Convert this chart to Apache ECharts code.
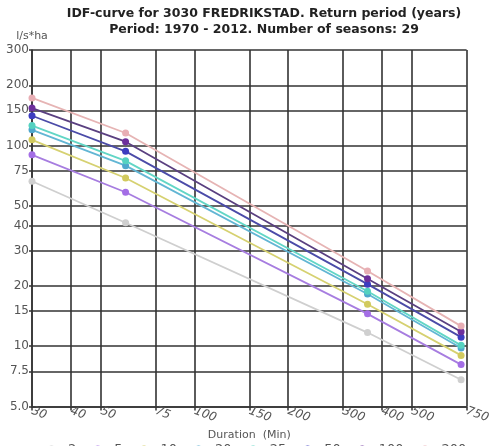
<!DOCTYPE html>
<html>
<head>
<meta charset="utf-8">
<title>IDF-curve 3030 FREDRIKSTAD</title>
<script src="https://cdn.jsdelivr.net/npm/echarts@6/dist/echarts.min.js"></script>
<style>
  html, body { margin: 0; padding: 0; background: #fff; }
  #chart { width: 493px; height: 446px; }
</style>
</head>
<body>
<div id="chart"></div>
<script>
// Durations (minutes) at which intensities are given
const durations = [30, 60, 360, 720];

// Return periods (years) and intensities (l/s*ha) per duration
const returnPeriods = ['2', '5', '10', '20', '25', '50', '100', '200'];
const rp2   = [66.5, 41.3, 11.7, 6.8];
const rp5   = [90, 58.6, 14.5, 8.1];
const rp10  = [107, 69, 16.2, 9.0];
const rp20  = [120, 79.5, 18.2, 9.8];
const rp25  = [126, 84, 18.8, 10.1];
const rp50  = [141, 93.7, 20.4, 11.1];
const rp100 = [154, 104.7, 21.7, 11.8];
const rp200 = [173, 115.7, 23.7, 12.6];

// Tick values for both log axes
const xTicks = [30, 40, 50, 75, 100, 150, 200, 300, 400, 500, 750];
const yTicks = [5, 7.5, 10, 15, 20, 30, 40, 50, 75, 100, 150, 200, 300];

const seriesValues = [rp2, rp5, rp10, rp20, rp25, rp50, rp100, rp200];
const lineColors = ['#cfcfcf', '#a77de0', '#d6d171', '#62b6d4', '#62d6c6', '#4b4ba8', '#5a4080', '#e6b4b4'];
const markColors = ['#cfcfcf', '#a46ee6', '#d2ca5e', '#4fa7cc', '#55d2c0', '#3d3dc0', '#6d2f9c', '#e8aeb4'];

const chart = echarts.init(document.getElementById('chart'), null, { renderer: 'canvas' });

const series = returnPeriods.map((name, i) => ({
  name: name,
  type: 'line',
  data: durations.map((d, j) => [d, seriesValues[i][j]]),
  symbol: 'circle',
  symbolSize: 7,
  showSymbol: true,
  lineStyle: { color: lineColors[i], width: 1.8 },
  itemStyle: { color: markColors[i] },
  z: 3 + i,
  animation: false
}));

const axisText = { color: '#555', fontFamily: 'DejaVu Sans', fontSize: 12 };

chart.setOption({
  animation: false,
  title: {
    text: 'IDF-curve for 3030 FREDRIKSTAD. Return period (years)\nPeriod: 1970 - 2012. Number of seasons: 29',
    left: 259,
    top: 1,
    textAlign: 'center',
    textStyle: {
      fontFamily: 'DejaVu Sans',
      fontWeight: 'bold',
      fontSize: 12.5,
      color: '#222',
      lineHeight: 16
    }
  },
  legend: {
    data: returnPeriods,
    left: 34,
    top: 438,
    itemWidth: 23,
    itemHeight: 10,
    itemGap: 9,
    textStyle: { color: '#555', fontFamily: 'DejaVu Sans', fontSize: 13 }
  },
  grid: { left: 32, right: 23, top: 50, bottom: 38 },
  xAxis: {
    type: 'log',
    logBase: 10,
    min: 30,
    max: 750,
    name: 'Duration  (Min)',
    nameLocation: 'middle',
    nameGap: 22,
    nameTextStyle: { color: '#555', fontFamily: 'DejaVu Sans', fontSize: 11 },
    axisLine: { show: true, lineStyle: { color: '#333', width: 1.5 } },
    axisTick: { show: true, length: 4, customValues: xTicks, lineStyle: { color: '#333', width: 1.5 } },
    axisLabel: Object.assign({
      customValues: xTicks,
      rotate: -20,
      margin: 4,
      fontStyle: 'italic'
    }, axisText),
    splitLine: { show: true, lineStyle: { color: '#333', width: 1.6 } },
    minorTick: { show: false },
    minorSplitLine: { show: false }
  },
  yAxis: {
    type: 'log',
    logBase: 10,
    min: 5,
    max: 300,
    name: 'l/s*ha',
    nameLocation: 'end',
    nameGap: 8,
    nameTextStyle: { color: '#555', fontFamily: 'DejaVu Sans', fontSize: 11, align: 'center' },
    axisLine: { show: true, lineStyle: { color: '#333', width: 1.5 } },
    axisTick: { show: true, length: 3, customValues: yTicks, lineStyle: { color: '#333', width: 1.5 } },
    axisLabel: Object.assign({
      customValues: yTicks,
      margin: 3,
      formatter: v => (v === 5 ? '5.0' : String(v))
    }, axisText),
    splitLine: { show: true, lineStyle: { color: '#333', width: 1.6 } },
    minorTick: { show: false },
    minorSplitLine: { show: false }
  },
  series: series
});
</script>
</body>
</html>
